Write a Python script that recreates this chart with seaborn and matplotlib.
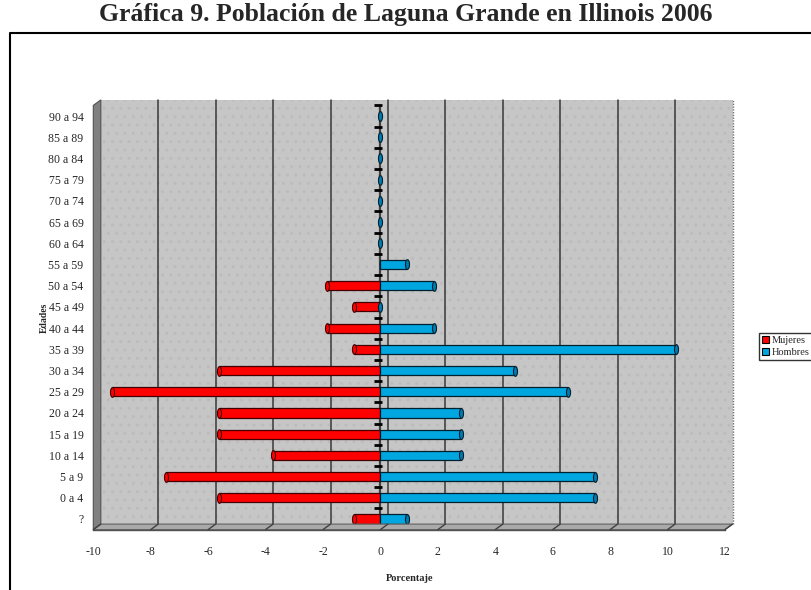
import numpy as np
import pandas as pd
import seaborn as sns
import matplotlib
matplotlib.use("Agg")
import matplotlib.pyplot as plt
from matplotlib.patches import Rectangle, Polygon, Patch
from matplotlib.transforms import ScaledTranslation, IdentityTransform, blended_transform_factory
from matplotlib.path import Path
from matplotlib.lines import Line2D

# ---------------- data ----------------
edades = ["90 a 94", "85 a 89", "80 a 84", "75 a 79", "70 a 74", "65 a 69",
          "60 a 64", "55 a 59", "50 a 54", "45 a 49", "40 a 44", "35 a 39",
          "30 a 34", "25 a 29", "20 a 24", "15 a 19", "10 a 14", "5 a 9",
          "0 a 4", "?"]
mujeres = [0, 0, 0, 0, 0, 0, 0, 0, -1.87, -0.93, -1.87, -0.93,
           -5.61, -9.35, -5.61, -5.61, -3.74, -7.48, -5.61, -0.93]
hombres = [0, 0, 0, 0, 0, 0, 0, 0.93, 1.87, 0, 1.87, 10.28,
           4.67, 6.54, 2.80, 2.80, 2.80, 7.48, 7.48, 0.93]
xticks = [-10, -8, -6, -4, -2, 0, 2, 4, 6, 8, 10, 12]
titulo = "Gráfica 9. Población de Laguna Grande en Illinois 2006"

df = pd.DataFrame({"Edad": edades, "Mujeres": mujeres, "Hombres": hombres})

RED = "#FF0000"
BLUE = "#00A6E0"

sns.set_style("white")
plt.rcParams["font.family"] = ["Liberation Serif", "DejaVu Serif"]

W, H = 812, 590
fig = plt.figure(figsize=(W / 100, H / 100), dpi=100)
L, R, T, B = 93.3, 725.0, 105.4, 529.6   # front plane in image px
DX, DY = 7.5, 5.5                         # depth offset (px)
ax = fig.add_axes([L / W, 1 - B / H, (R - L) / W, (B - T) / H])
ax.set_facecolor("none")

# ---------------- bars ----------------
sns.barplot(data=df, y="Edad", x="Mujeres", color=RED, width=0.43,
            edgecolor="#400000", linewidth=0.9, saturation=1, ax=ax, zorder=3)
sns.barplot(data=df, y="Edad", x="Hombres", color=BLUE, width=0.43,
            edgecolor="#002030", linewidth=0.9, saturation=1, ax=ax, zorder=3)
ax.set_xlim(-10, 12)
ax.set_ylim(len(edades) - 0.5, -0.5)

# cylinder end caps
t = np.linspace(0, 2 * np.pi, 40)
ell = Path(np.column_stack([0.42 * np.cos(t), np.sin(t)]))
ypos = np.arange(len(edades))
hv = np.array(hombres)
mv = np.array(mujeres)
ax.scatter(hv, ypos, marker=ell, s=48, c="#007CB0", edgecolors="#002030",
           linewidths=0.8, zorder=4)
mask = mv != 0
ax.scatter(mv[mask], ypos[mask], marker=ell, s=48, c=RED, edgecolors="#400000",
           linewidths=0.8, zorder=4)

# ---------------- pseudo 3D walls ----------------
off = ScaledTranslation(DX / 100, DY / 100, fig.dpi_scale_trans)
back = ax.transAxes + off
ax.add_patch(Rectangle((0, 0), 1, 1, transform=back, fc="#C6C6C6", ec="none",
                       zorder=0, clip_on=False))
ax.add_patch(Rectangle((0, 0), 1, 1, transform=back, fc="none", ec="#BCBCBC",
                       hatch="..", lw=0, zorder=0.1, clip_on=False))
bl = blended_transform_factory(ax.transData, ax.transAxes) + off
for x in xticks[1:-1]:
    ax.add_line(Line2D([x, x], [0, 1], transform=bl, color="#383838", lw=1.1,
                       zorder=0.5, clip_on=False))
ax.add_line(Line2D([12, 12], [0, 1], transform=bl, color="#707070", lw=1.0,
                   ls=(0, (1, 1)), zorder=0.5, clip_on=False))


def px(x, y):
    return (x, H - y)


left_wall = Polygon([px(L, B), px(L, T), px(L + DX, T - DY), px(L + DX, B - DY)],
                    closed=True, transform=IdentityTransform(), fc="#808080",
                    ec="#505050", lw=0.8, zorder=0.6)
floor = Polygon([px(L, B), px(R, B), px(R + DX, B - DY), px(L + DX, B - DY)],
                closed=True, transform=IdentityTransform(), fc="#A9A9A9",
                ec="#606060", lw=0.8, zorder=0.6)
fig.add_artist(left_wall)
fig.add_artist(floor)
for x in xticks:
    xd = ax.transData.transform((x, 0))[0]
    fig.add_artist(Line2D([xd, xd + DX], [H - B, H - B + DY], transform=IdentityTransform(),
                          color="#404040", lw=1.0, zorder=0.7))

# zero axis line and category ticks
ax.axvline(0, color="#404040", lw=1.6, zorder=1.5)
tick_off = ax.transData + ScaledTranslation(-2.5 / 100, 0, fig.dpi_scale_trans)
bounds = np.arange(len(edades)) - 0.5
ax.scatter(np.zeros_like(bounds), bounds, marker="_", s=30, c="black",
           linewidths=2.0, transform=tick_off, zorder=2, clip_on=False)

# ---------------- axes styling ----------------
for s in ["top", "right", "left"]:
    ax.spines[s].set_visible(False)
ax.spines["bottom"].set_color("#505050")
ax.spines["bottom"].set_linewidth(1.0)
ax.spines["bottom"].set_zorder(1)
ax.set_xticks(xticks)
ax.set_xticklabels([str(v) for v in xticks])
ax.tick_params(axis="x", direction="out", length=4, width=1.5, color="black",
               pad=8, labelsize=8.5)
ax.tick_params(axis="y", length=0, pad=7, labelsize=8.5)
ax.set_ylabel("")
ax.set_xlabel("Porcentaje", fontsize=7.5, fontweight="bold", labelpad=11)

fig.text(44 / W, 1 - 318 / H, "Edades", rotation=90, fontsize=7,
         fontweight="bold", ha="center", va="center")

# title and frame
fig.text(406 / W, 1 - 14 / H, titulo, ha="center", va="center", fontsize=18.5,
         fontweight="bold")
fig.add_artist(Line2D([10, 10, W + 5], [-5, H - 33, H - 33], transform=IdentityTransform(),
                      color="black", lw=1.5))

# legend
handles = [Patch(facecolor=RED, edgecolor="black", lw=0.8),
           Patch(facecolor=BLUE, edgecolor="black", lw=0.8)]
leg = fig.legend(handles, ["Mujeres", "Hombres"], loc="upper left",
                 bbox_to_anchor=(759 / W, 1 - 333 / H), fontsize=7.5,
                 frameon=True, fancybox=False, edgecolor="black",
                 handlelength=0.7, handleheight=0.7, handletextpad=0.2,
                 borderpad=0.3, labelspacing=0.25, borderaxespad=0)
leg.get_frame().set_linewidth(1.0)

fig.savefig("out.png", dpi=100)
